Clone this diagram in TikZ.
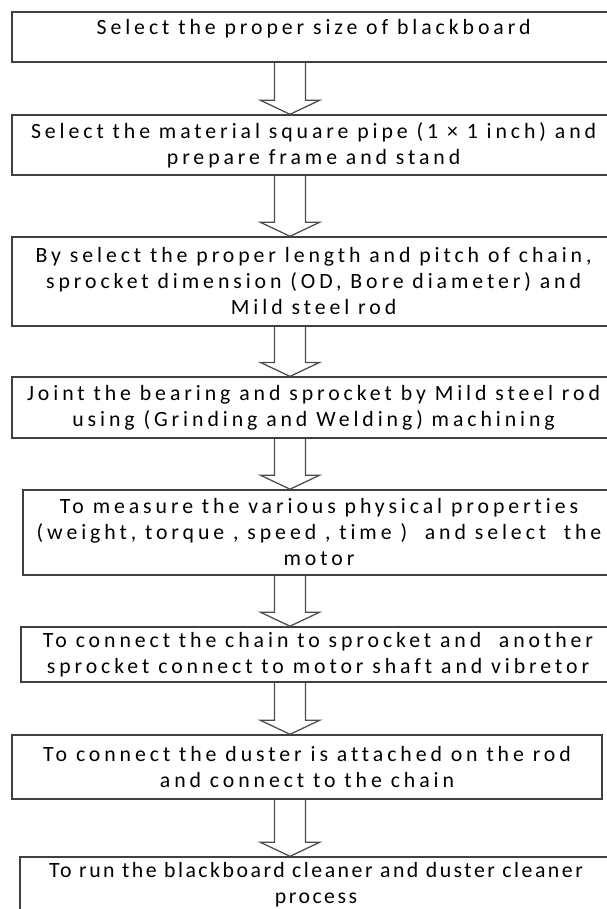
\documentclass[tikz,border=0pt]{standalone}
\usepackage{fontspec}
\setmainfont{Carlito}[LetterSpace=18,Ligatures=NoCommon]
\usepackage{tikz}
\usetikzlibrary{calc}

\begin{document}
\begin{tikzpicture}[
      stepbox/.style={draw=black!75,line width=1pt,align=center,
                      inner sep=2pt,
                      font=\fontsize{15.5}{18.5}\selectfont},
      hollow/.style={draw=black!70,line width=0.9pt,line join=miter},
  ]
  \useasboundingbox (0,0) rectangle (15.15,-22.725);

  %--- process steps ---
  \node[stepbox,minimum width=15.075cm,minimum height=1.25cm,text depth=0.5cm]
    (s1) at (7.84,-0.925) {Select the proper size of blackboard};
  \node[stepbox,minimum width=15.075cm,minimum height=1.5cm]
    (s2) at (7.84,-3.625) {Select the material square pipe (1 × 1 inch) and\\prepare frame and stand};
  \node[stepbox,minimum width=15.075cm,minimum height=2.225cm]
    (s3) at (7.84,-7.0375) {By select the proper length and pitch of chain,\\sprocket dimension (OD, Bore diameter) and\\Mild steel rod};
  \node[stepbox,minimum width=15.075cm,minimum height=1.525cm]
    (s4) at (7.84,-10.19) {Joint the bearing and sprocket by Mild steel rod\\using (Grinding and Welding) machining};
  \node[stepbox,minimum width=14.8cm,minimum height=2.125cm]
    (s5) at (7.975,-13.31) {To measure the various physical properties\\(weight, torque , speed , time )\ \ and select\ \ the\\motor};
  \node[stepbox,minimum width=14.85cm,minimum height=1.375cm]
    (s6) at (7.95,-16.36) {To connect the chain to sprocket and\ \ another\\sprocket connect to motor shaft and vibretor};
  \node[stepbox,minimum width=14.75cm,minimum height=1.6cm]
    (s7) at (7.675,-19.175) {To connect the duster is attached on the rod\\and connect to the chain};
  \node[stepbox,minimum width=14.8cm,minimum height=1.4cm,
        font=\fontsize{15.5}{18.5}\selectfont\addfontfeature{LetterSpace=11.5}]
    (s8) at (7.9,-22.125) {To run the blackboard cleaner and duster cleaner\\process};

  %--- block arrows between steps ---
  \coordinate (ax) at (7.25,0);
  \foreach \a/\b in {s1/s2,s2/s3,s3/s4,s4/s5,s5/s6,s6/s7,s7/s8}
    \draw[hollow] ($(ax |- \a.south)+(-0.39,0)$) -- ($(ax |- \b.north)+(-0.39,0.35)$)
      -- ++(-0.35,0) -- (ax |- \b.north) -- ($(ax |- \b.north)+(0.74,0.35)$)
      -- ++(-0.35,0) -- ($(ax |- \a.south)+(0.39,0)$);
\end{tikzpicture}
\end{document}
